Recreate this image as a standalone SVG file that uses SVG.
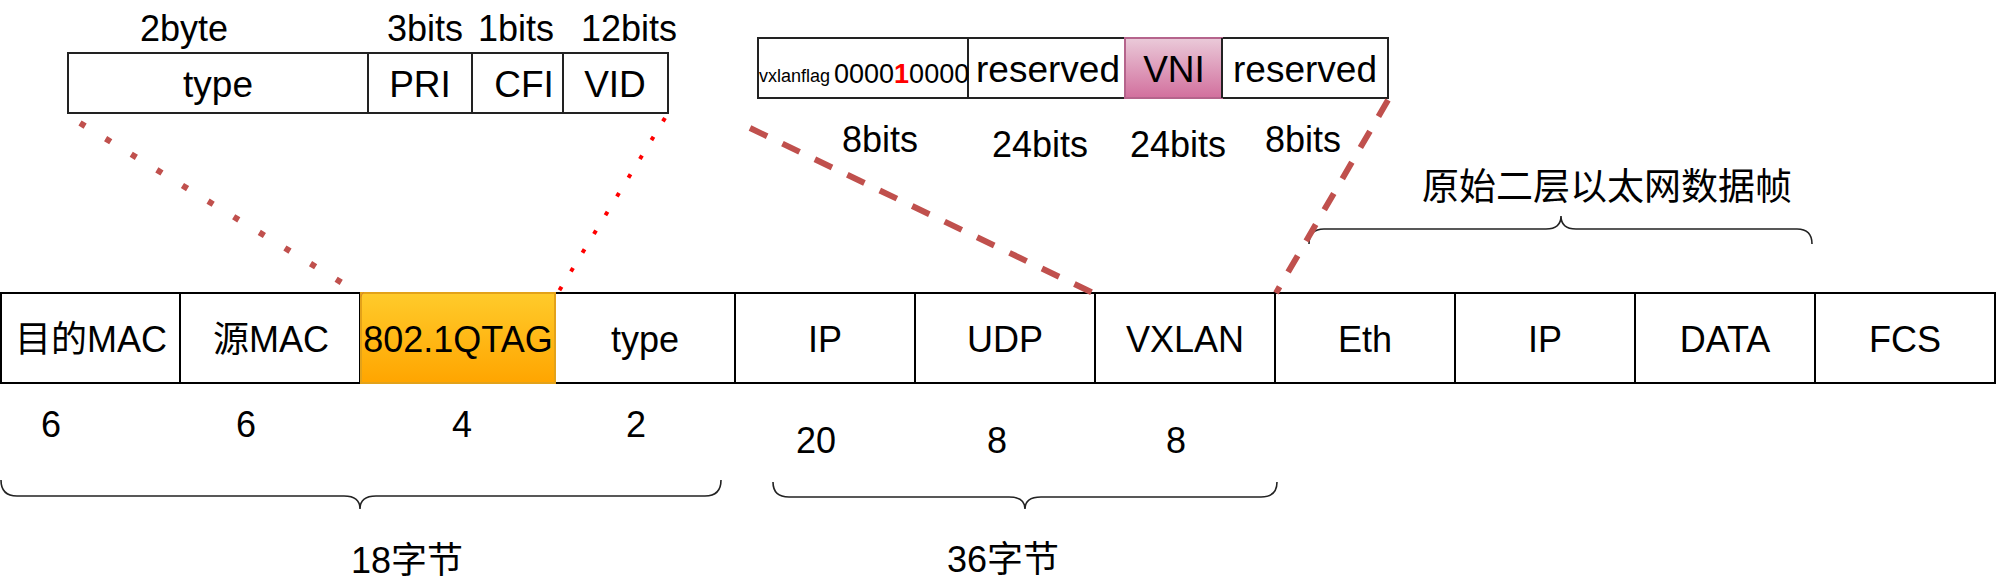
<svg xmlns="http://www.w3.org/2000/svg" width="1997" height="581" viewBox="0 0 1997 581">
<style>
text{font-family:"Liberation Sans","Noto Sans CJK SC",Arial,sans-serif;fill:#000;}
.t36{font-size:36px;text-anchor:middle;}
.t37{font-size:37px;text-anchor:middle;}
.cell{fill:#fff;stroke:#000;stroke-width:2;}
.box{fill:#fff;stroke:#222;stroke-width:2;}
.div{stroke:#222;stroke-width:2;}
.brace{fill:none;stroke:#222;stroke-width:1.6;}
.conn{fill:none;stroke:#C0504D;}
.conn-red{fill:none;stroke:#FF0000;}
</style>
<defs>
<linearGradient id="gOrange" x1="0" y1="0" x2="0" y2="1">
<stop offset="0" stop-color="#FFCB2B"/>
<stop offset="1" stop-color="#FFA500"/>
</linearGradient>
<linearGradient id="gPink" x1="0" y1="0" x2="0" y2="1">
<stop offset="0" stop-color="#EACAD9"/>
<stop offset="1" stop-color="#D26F9D"/>
</linearGradient>
</defs>

<g id="row">
<g id="n-dmac"><rect class="cell" x="1" y="293" width="179" height="90"/><text class="t36" x="91" y="352">目的MAC</text></g>
<g id="n-smac"><rect class="cell" x="180" y="293" width="180" height="90"/><text class="t36" x="271" y="352">源MAC</text></g>
<g id="n-type"><rect class="cell" x="555" y="293" width="180" height="90"/><text class="t36" x="645" y="352">type</text></g>
<g id="n-ip"><rect class="cell" x="735" y="293" width="180" height="90"/><text class="t36" x="825" y="352">IP</text></g>
<g id="n-udp"><rect class="cell" x="915" y="293" width="180" height="90"/><text class="t36" x="1005" y="352">UDP</text></g>
<g id="n-vxlan"><rect class="cell" x="1095" y="293" width="180" height="90"/><text class="t36" x="1185" y="352">VXLAN</text></g>
<g id="n-eth"><rect class="cell" x="1275" y="293" width="180" height="90"/><text class="t36" x="1365" y="352">Eth</text></g>
<g id="n-ip2"><rect class="cell" x="1455" y="293" width="180" height="90"/><text class="t36" x="1545" y="352">IP</text></g>
<g id="n-data"><rect class="cell" x="1635" y="293" width="180" height="90"/><text class="t36" x="1725" y="352">DATA</text></g>
<g id="n-fcs"><rect class="cell" x="1815" y="293" width="180" height="90"/><text class="t36" x="1905" y="352">FCS</text></g>
<g id="n-qtag"><rect x="361" y="293" width="194" height="90" fill="url(#gOrange)" stroke="#E3A21A" stroke-width="2"/><text class="t36" x="458" y="352">802.1QTAG</text></g>
</g>

<g id="sizes">
<text class="t36" x="51" y="437">6</text>
<text class="t36" x="246" y="437">6</text>
<text class="t36" x="462" y="437">4</text>
<text class="t36" x="636" y="437">2</text>
<text class="t36" x="816" y="453">20</text>
<text class="t36" x="997" y="453">8</text>
<text class="t36" x="1176" y="453">8</text>
</g>

<g id="vlan-tag">
<rect class="box" x="68" y="53" width="600" height="60"/>
<line class="div" x1="368" y1="53" x2="368" y2="113"/>
<line class="div" x1="472" y1="53" x2="472" y2="113"/>
<line class="div" x1="563" y1="53" x2="563" y2="113"/>
<text class="t37" x="218" y="97">type</text>
<text class="t37" x="420" y="97">PRI</text>
<text class="t37" x="524" y="97">CFI</text>
<text class="t37" x="615" y="97">VID</text>
<text class="t36" x="184" y="41">2byte</text>
<text class="t36" x="425" y="41">3bits</text>
<text class="t36" x="516" y="41">1bits</text>
<text class="t36" x="629" y="41">12bits</text>
</g>

<g id="vxlan-header">
<rect class="box" x="758" y="38" width="630" height="60"/>
<rect x="1125" y="38" width="97" height="60" fill="url(#gPink)" stroke="#B5648C" stroke-width="2"/>
<line class="div" x1="968" y1="38" x2="968" y2="98"/>
<line class="div" x1="1222" y1="38" x2="1222" y2="98"/>
<text x="759" y="82" style="font-size:18px">vxlanflag</text>
<text x="834" y="83" style="font-size:27px">0000<tspan fill="#FF0000" font-weight="bold">1</tspan>0000</text>
<text class="t37" x="1048" y="82">reserved</text>
<text class="t37" x="1174" y="82">VNI</text>
<text class="t37" x="1305" y="82">reserved</text>
<text class="t36" x="880" y="152">8bits</text>
<text class="t36" x="1040" y="157">24bits</text>
<text class="t36" x="1178" y="157">24bits</text>
<text class="t36" x="1303" y="152">8bits</text>
</g>

<g id="braces">
<path class="brace" d="M1309,244 Q1309,229 1324,229 L1546,229 Q1561,229 1561,216 Q1561,229 1576,229 L1797,229 Q1812,229 1812,244"/>
<path class="brace" d="M1,480 Q1,496 17,496 L344,496 Q360,496 360,509 Q360,496 376,496 L705,496 Q721,496 721,480"/>
<path class="brace" d="M773,482 Q773,497 789,497 L1009,497 Q1025,497 1025,509 Q1025,497 1041,497 L1261,497 Q1277,497 1277,482"/>
<text x="1422" y="200" style="font-size:37px">原始二层以太网数据帧</text>
<text class="t36" x="407" y="573">18字节</text>
<text class="t36" x="1003" y="572">36字节</text>
</g>

<g id="connectors">
<line class="conn" x1="80" y1="123" x2="362" y2="295" stroke-width="6" stroke-dasharray="6 24"/>
<line class="conn-red" x1="665" y1="118" x2="559" y2="291" stroke-width="4" stroke-dasharray="4 18"/>
<line class="conn" x1="750" y1="128" x2="1093" y2="293" stroke-width="6" stroke-dasharray="19 17"/>
<line class="conn" x1="1388" y1="100" x2="1276" y2="293" stroke-width="6" stroke-dasharray="19 17"/>
</g>
</svg>
